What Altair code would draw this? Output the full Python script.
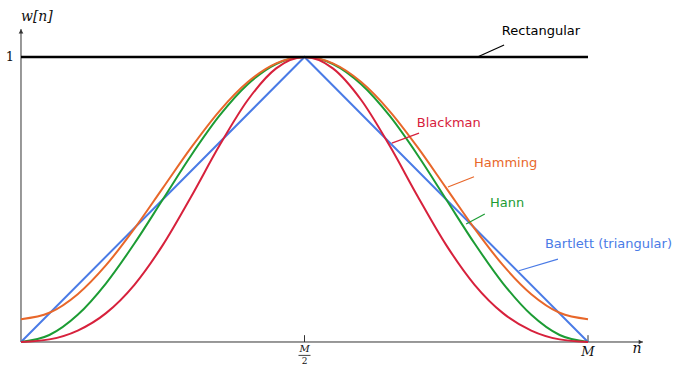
import altair as alt
import pandas as pd

# ---- data (x is n/M) ----
n_frac = [0.00, 0.05, 0.10, 0.15, 0.20, 0.25, 0.30, 0.35, 0.40, 0.45, 0.50,
          0.55, 0.60, 0.65, 0.70, 0.75, 0.80, 0.85, 0.90, 0.95, 1.00]
hann = [0.0, 0.0245, 0.0955, 0.2061, 0.3455, 0.5, 0.6545, 0.7939, 0.9045, 0.9755, 1.0,
        0.9755, 0.9045, 0.7939, 0.6545, 0.5, 0.3455, 0.2061, 0.0955, 0.0245, 0.0]
hamming = [0.08, 0.1025, 0.1679, 0.2696, 0.3979, 0.54, 0.6821, 0.8104, 0.9121, 0.9775, 1.0,
           0.9775, 0.9121, 0.8104, 0.6821, 0.54, 0.3979, 0.2696, 0.1679, 0.1025, 0.08]
blackman = [0.0, 0.0092, 0.0402, 0.1014, 0.2008, 0.34, 0.5098, 0.6892, 0.8492, 0.9602, 1.0,
            0.9602, 0.8492, 0.6892, 0.5098, 0.34, 0.2008, 0.1014, 0.0402, 0.0092, 0.0]
bartlett_x = [0.0, 0.5, 1.0]
bartlett = [0.0, 1.0, 0.0]
rect_x = [0.0, 1.0]
rectangular = [1.0, 1.0]

windows = ["Rectangular", "Bartlett (triangular)", "Hann", "Hamming", "Blackman"]
colors = ["#000000", "#4a7be6", "#1c9c34", "#e8672a", "#d7213c"]

# label annotations: leader start (x0,y0), leader end (x1,y1), text anchor (tx,ty)
lab_name = ["Rectangular", "Blackman", "Hamming", "Hann", "Bartlett (triangular)"]
lab_x0 = [0.805, 0.654, 0.753, 0.785, 0.878]
lab_y0 = [1.000, 0.698, 0.544, 0.414, 0.250]
lab_x1 = [0.852, 0.702, 0.799, 0.818, 0.947]
lab_y1 = [1.042, 0.733, 0.580, 0.449, 0.291]
lab_tx = [0.848, 0.698, 0.799, 0.827, 0.924]
lab_ty = [1.091, 0.769, 0.629, 0.489, 0.344]

# ---- scales ----
xs = alt.Scale(domain=[-0.037037, 1.153439], nice=False, zero=False)
ys = alt.Scale(domain=[-0.084211, 1.2], nice=False, zero=False)
cs = alt.Scale(domain=windows, range=colors)

smooth = pd.DataFrame({
    "x": n_frac * 3,
    "y": hann + hamming + blackman,
    "w": ["Hann"] * 21 + ["Hamming"] * 21 + ["Blackman"] * 21,
})
lin = pd.DataFrame({
    "x": bartlett_x + rect_x,
    "y": bartlett + rectangular,
    "w": ["Bartlett (triangular)"] * 3 + ["Rectangular"] * 2,
})
labels = pd.DataFrame({"w": lab_name, "x0": lab_x0, "y0": lab_y0,
                       "x1": lab_x1, "y1": lab_y1, "tx": lab_tx, "ty": lab_ty})

X = lambda f: alt.X(f, type="quantitative", scale=xs, axis=None)
Y = lambda f: alt.Y(f, type="quantitative", scale=ys, axis=None)

# axes
axes_df = pd.DataFrame({"x": [0.0, 0.0], "y": [0.0, 0.0], "x2": [1.097, 0.0], "y2": [0.0, 1.098]})
axes = alt.Chart(axes_df).mark_rule(color="#333333", strokeWidth=1).encode(
    x=X("x"), y=Y("y"), x2="x2", y2="y2")
arrows_df = pd.DataFrame({"x": [1.093, 0.0], "y": [0.0, 1.090], "s": ["triangle-right", "triangle-up"]})
arrows = alt.Chart(arrows_df).mark_point(filled=True, color="#333333", size=22, opacity=1).encode(
    x=X("x"), y=Y("y"), shape=alt.Shape("s:N", scale=None, legend=None))
ticks_df = pd.DataFrame({"x": [0.5, 1.0], "y": [0.0, 0.0], "y2": [0.024, 0.024]})
ticks = alt.Chart(ticks_df).mark_rule(color="#333333", strokeWidth=1).encode(
    x=X("x"), y=Y("y"), y2="y2")

rect_line = alt.Chart(lin[lin.w == "Rectangular"]).mark_line(strokeWidth=2.5).encode(
    x=X("x"), y=Y("y"), color=alt.Color("w:N", scale=cs, legend=None))
tri_line = alt.Chart(lin[lin.w != "Rectangular"]).mark_line(strokeWidth=2).encode(
    x=X("x"), y=Y("y"), color=alt.Color("w:N", scale=cs, legend=None))
smooth_lines = alt.Chart(smooth).mark_line(strokeWidth=2, interpolate="monotone").encode(
    x=X("x"), y=Y("y"), color=alt.Color("w:N", scale=cs, legend=None),
    detail="w:N")

leaders = alt.Chart(labels).mark_rule(strokeWidth=1.2).encode(
    x=X("x0"), y=Y("y0"), x2="x1", y2="y1", color=alt.Color("w:N", scale=cs, legend=None))
label_text = alt.Chart(labels).mark_text(align="left", baseline="middle", font="DejaVu Sans",
                                         fontSize=13).encode(
    x=X("tx"), y=Y("ty"), text="w:N", color=alt.Color("w:N", scale=cs, legend=None))

# axis texts
math_df = pd.DataFrame({
    "t": ["w[n]", "n", "M", "M", "2"],
    "x": [0.028, 1.0864, 1.0, 0.5, 0.5],
    "y": [1.140, -0.0246, -0.0351, -0.0260, -0.0680],
    "fs": [14, 14, 13, 10, 9],
    "st": ["italic", "italic", "italic", "italic", "normal"],
})
math_parts = []
for i in range(len(math_df)):
    row = math_df.iloc[[i]]
    math_parts.append(alt.Chart(row).mark_text(
        font="DejaVu Serif", fontSize=int(row.fs.iloc[0]), fontStyle=row.st.iloc[0],
        baseline="middle", align="center", color="#111111").encode(
        x=X("x"), y=Y("y"), text="t:N"))
one_df = pd.DataFrame({"t": ["1"], "x": [-0.0123], "y": [1.0]})
one = alt.Chart(one_df).mark_text(font="DejaVu Serif", fontSize=13, align="right",
                                  baseline="middle", color="#111111").encode(
    x=X("x"), y=Y("y"), text="t:N")
frac_df = pd.DataFrame({"x": [0.4894], "x2": [0.5106], "y": [-0.0470]})
frac = alt.Chart(frac_df).mark_rule(color="#111111", strokeWidth=0.8).encode(
    x=X("x"), x2="x2", y=Y("y"))

chart = alt.layer(
    axes, ticks, arrows, tri_line, smooth_lines, rect_line, leaders, label_text,
    one, frac, *math_parts
).properties(
    width=675, height=366, padding=0,
    autosize=alt.AutoSizeParams(type="none"),
).configure_view(stroke=None)

chart.save("out.html", embed_options={"renderer": "svg", "actions": False})
